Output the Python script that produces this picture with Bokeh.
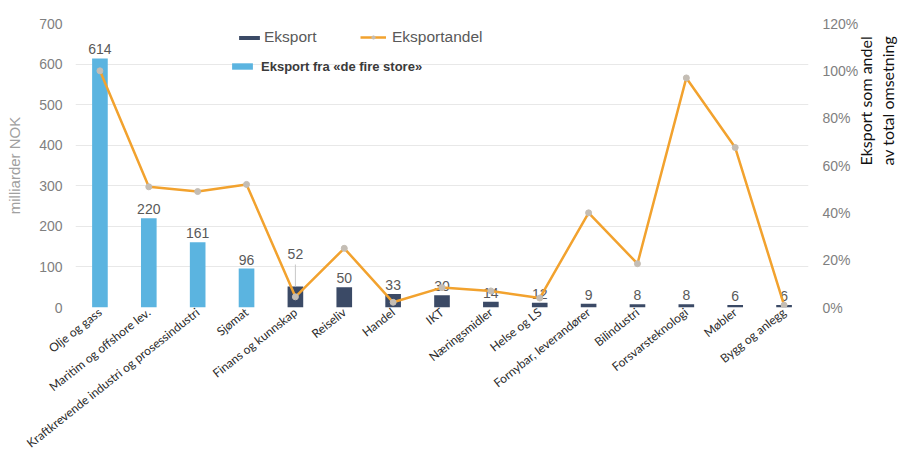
import math
from bokeh.plotting import figure
from bokeh.models import (ColumnDataSource, FactorRange, Range1d, LinearAxis,
                          NumeralTickFormatter, FixedTicker, Legend, LegendItem)
from bokeh.embed import file_html
from bokeh.resources import INLINE
from bokeh.core.properties import value

categories = ["Olje og gass", "Maritim og offshore lev.",
              "Kraftkrevende industri og prosessindustri", "Sjømat",
              "Finans og kunnskap", "Reiseliv", "Handel", "IKT", "Næringsmidler",
              "Helse og LS", "Fornybar, leverandører", "Bilindustri",
              "Forsvarsteknologi", "Møbler", "Bygg og anlegg"]
eksport = [614, 220, 161, 96, 52, 50, 33, 30, 14, 12, 9, 8, 8, 6, 6]
eksportandel = [1.00, 0.51, 0.49, 0.52, 0.045, 0.25, 0.022, 0.084, 0.07, 0.04,
                0.40, 0.185, 0.97, 0.676, 0.01]
fire_store = ["Olje og gass", "Maritim og offshore lev.",
              "Kraftkrevende industri og prosessindustri", "Sjømat"]
left_ticks = [0, 100, 200, 300, 400, 500, 600, 700]
right_ticks = [0, 0.2, 0.4, 0.6, 0.8, 1.0, 1.2]
right_title = ["Eksport som andel", "av total omsetning"]

# style: lift of the label for "Finans og kunnskap" (with a leader line)
label_lift = {"Finans og kunnskap": 58}

LIGHT = "#5BB4E0"
DARK = "#3B4A66"
ORANGE = "#F2A22E"

big = [i for i, c in enumerate(categories) if c in fire_store]
small = [i for i, c in enumerate(categories) if c not in fire_store]

src_big = ColumnDataSource(dict(cat=[categories[i] for i in big], v=[eksport[i] for i in big]))
src_small = ColumnDataSource(dict(cat=[categories[i] for i in small], v=[eksport[i] for i in small]))
label_y = [v + label_lift.get(c, 0) for c, v in zip(categories, eksport)]
src_all = ColumnDataSource(dict(cat=categories, v=eksport, a=eksportandel,
                                ly=label_y, txt=[str(v) for v in eksport]))
lifted = [c for c in categories if c in label_lift]
src_lead = ColumnDataSource(dict(cat=lifted,
                                 y0=[eksport[categories.index(c)] for c in lifted],
                                 y1=[eksport[categories.index(c)] + label_lift[c] - 4 for c in lifted]))

p = figure(width=914, height=462, x_range=FactorRange(*categories, range_padding=0),
           y_range=Range1d(0, 700), output_backend="svg", toolbar_location=None,
           min_border_left=75, min_border_right=106, min_border_top=23, min_border_bottom=155)
p.outline_line_color = None
p.background_fill_color = "white"
p.extra_y_ranges = {"pct": Range1d(0, 1.2)}

r_big = p.vbar(x="cat", top="v", width=0.32, source=src_big, fill_color=LIGHT, line_color=None)
r_small = p.vbar(x="cat", top="v", width=0.32, source=src_small, fill_color=DARK, line_color=None)
p.segment(x0="cat", y0="y0", x1="cat", y1="y1", source=src_lead, line_color="#c8c8c8", line_width=1)
p.text(x="cat", y="ly", text="txt", source=src_all, text_align="center", text_baseline="bottom",
       y_offset=-4, text_font=value("Liberation Sans"), text_font_size="14px", text_color="#595959")
r_line = p.line(x="cat", y="a", y_range_name="pct", source=src_all, line_color=ORANGE, line_width=2.5)
r_pts = p.scatter(x="cat", y="a", y_range_name="pct", source=src_all, size=6,
                  fill_color="#c4bdb4", line_color="#c4bdb4")

# grid
p.xgrid.grid_line_color = None
p.ygrid.grid_line_color = "#e8e8e8"
p.ygrid.grid_line_width = 1

# x axis
xa = p.xaxis[0]
xa.axis_line_color = None
xa.major_tick_line_color = None
xa.minor_tick_line_color = None
xa.major_tick_out = 0
xa.major_tick_in = 0
xa.major_label_orientation = 0.67
xa.major_label_text_font = "Lato"
xa.major_label_text_font_size = "12px"
xa.major_label_text_color = "#2b2b2b"
xa.major_label_standoff = 3

# left axis
ya = p.yaxis[0]
ya.ticker = FixedTicker(ticks=left_ticks)
ya.axis_line_color = None
ya.major_tick_line_color = None
ya.minor_tick_line_color = None
ya.major_tick_out = 0
ya.major_tick_in = 0
ya.major_label_text_font = "Liberation Sans"
ya.major_label_text_font_size = "14px"
ya.major_label_text_color = "#7f7f7f"
ya.major_label_standoff = 13
ya.axis_label = "milliarder NOK"
ya.axis_label_text_font = "Liberation Sans"
ya.axis_label_text_font_style = "normal"
ya.axis_label_text_font_size = "15px"
ya.axis_label_text_color = "#a0a0a0"
ya.axis_label_standoff = 13


def style_right(ax):
    ax.axis_line_color = None
    ax.major_tick_line_color = None
    ax.minor_tick_line_color = None
    ax.major_tick_out = 0
    ax.major_tick_in = 0
    ax.axis_label_text_font = "Lato"
    ax.axis_label_text_font_style = "normal"
    ax.axis_label_text_font_size = "16px"
    ax.axis_label_text_color = "#111111"
    ax.axis_label_text_baseline = "top"
    if "axis_label_orientation" in LinearAxis.properties():
        ax.axis_label_orientation = math.pi / 2


# right axis (ticks + first title line)
ra = LinearAxis(y_range_name="pct", ticker=FixedTicker(ticks=right_ticks),
                formatter=NumeralTickFormatter(format="0%"))
style_right(ra)
ra.major_label_text_font = "Liberation Sans"
ra.major_label_text_font_size = "14px"
ra.major_label_text_color = "#7f7f7f"
ra.major_label_standoff = 14
ra.axis_label = right_title[0]
ra.axis_label_standoff = 4
p.add_layout(ra, "right")

# second title line
ra2 = LinearAxis(y_range_name="pct", ticker=FixedTicker(ticks=[]))
style_right(ra2)
ra2.major_label_standoff = 0
ra2.axis_label = right_title[1]
ra2.axis_label_standoff = 0
p.add_layout(ra2, "right")

common = dict(padding=0, margin=0, border_line_color=None, background_fill_alpha=0,
              label_height=16, glyph_width=26, orientation="horizontal")
leg_a = Legend(items=[LegendItem(label="Eksport", renderers=[r_small])],
               location=(161, 261), glyph_height=5, label_standoff=2,
               label_text_font="Liberation Sans", label_text_font_size="15.5px",
               label_text_color="#595959", **common)
leg_b = Legend(items=[LegendItem(label="Eksportandel", renderers=[r_line, r_pts])],
               location=(285, 261), glyph_height=8, label_standoff=6,
               label_text_font="Liberation Sans", label_text_font_size="15.5px",
               label_text_color="#595959", **common)
leg_c = Legend(items=[LegendItem(label="Eksport fra «de fire store»", renderers=[r_big])],
               location=(154, 233), glyph_height=8, label_standoff=6,
               label_text_font="Liberation Sans", label_text_font_size="13px",
               label_text_font_style="bold", label_text_color="#3a3a3a", **common)
for lg in (leg_a, leg_b, leg_c):
    p.add_layout(lg)

open("out.html", "w").write(file_html(p, INLINE))
